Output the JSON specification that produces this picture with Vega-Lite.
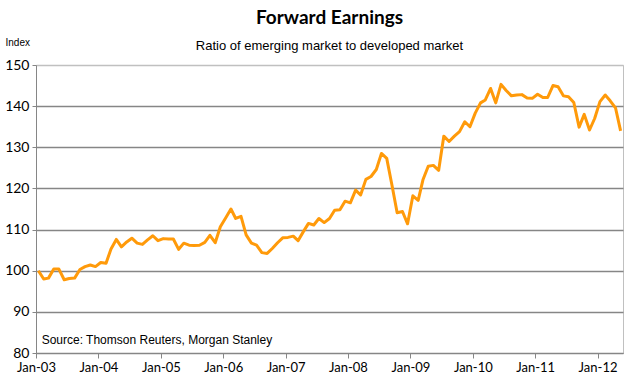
{
  "$schema": "https://vega.github.io/schema/vega-lite/v6.json",
  "width": 587,
  "height": 288,
  "autosize": {"type": "none"},
  "padding": {"left": 36, "top": 65, "right": 2, "bottom": 26},
  "background": "white",
  "config": {
    "view": {"stroke": "#c0c0c0", "strokeWidth": 1}
  },
  "title": {
    "text": "Forward Earnings",
    "subtitle": "Ratio of emerging market to developed market",
    "anchor": "middle",
    "frame": "group",
    "font": "Lato",
    "fontSize": 19,
    "fontWeight": "bold",
    "color": "black",
    "subtitleFont": "Liberation Sans Narrow, Liberation Sans, sans-serif",
    "subtitleFontSize": 13,
    "subtitleColor": "black",
    "subtitlePadding": 12,
    "offset": -16
  },
  "datasets": {
    "series": [
      {"date": "2003-01-15", "v": 100.0}, {"date": "2003-02-15", "v": 98.0}, {"date": "2003-03-15", "v": 98.2},
      {"date": "2003-04-15", "v": 100.4}, {"date": "2003-05-15", "v": 100.4}, {"date": "2003-06-15", "v": 97.8},
      {"date": "2003-07-15", "v": 98.1}, {"date": "2003-08-15", "v": 98.2}, {"date": "2003-09-15", "v": 100.3},
      {"date": "2003-10-15", "v": 101.0}, {"date": "2003-11-15", "v": 101.4}, {"date": "2003-12-15", "v": 101.0},
      {"date": "2004-01-15", "v": 102.0}, {"date": "2004-02-15", "v": 101.8}, {"date": "2004-03-15", "v": 105.3},
      {"date": "2004-04-15", "v": 107.6}, {"date": "2004-05-15", "v": 105.8}, {"date": "2004-06-15", "v": 107.0},
      {"date": "2004-07-15", "v": 107.9}, {"date": "2004-08-15", "v": 106.7}, {"date": "2004-09-15", "v": 106.4},
      {"date": "2004-10-15", "v": 107.5}, {"date": "2004-11-15", "v": 108.5}, {"date": "2004-12-15", "v": 107.3},
      {"date": "2005-01-15", "v": 107.8}, {"date": "2005-02-15", "v": 107.7}, {"date": "2005-03-15", "v": 107.7},
      {"date": "2005-04-15", "v": 105.2}, {"date": "2005-05-15", "v": 106.7}, {"date": "2005-06-15", "v": 106.2},
      {"date": "2005-07-15", "v": 106.1}, {"date": "2005-08-15", "v": 106.2}, {"date": "2005-09-15", "v": 106.9},
      {"date": "2005-10-15", "v": 108.6}, {"date": "2005-11-15", "v": 106.8}, {"date": "2005-12-15", "v": 110.7},
      {"date": "2006-01-15", "v": 112.8}, {"date": "2006-02-15", "v": 115.0}, {"date": "2006-03-15", "v": 112.7},
      {"date": "2006-04-15", "v": 113.2}, {"date": "2006-05-15", "v": 108.7}, {"date": "2006-06-15", "v": 106.7},
      {"date": "2006-07-15", "v": 106.2}, {"date": "2006-08-15", "v": 104.4}, {"date": "2006-09-15", "v": 104.2},
      {"date": "2006-10-15", "v": 105.4}, {"date": "2006-11-15", "v": 106.8}, {"date": "2006-12-15", "v": 108.0},
      {"date": "2007-01-15", "v": 108.1}, {"date": "2007-02-15", "v": 108.4}, {"date": "2007-03-15", "v": 107.3},
      {"date": "2007-04-15", "v": 109.5}, {"date": "2007-05-15", "v": 111.5}, {"date": "2007-06-15", "v": 111.1},
      {"date": "2007-07-15", "v": 112.7}, {"date": "2007-08-15", "v": 111.7}, {"date": "2007-09-15", "v": 112.7},
      {"date": "2007-10-15", "v": 114.7}, {"date": "2007-11-15", "v": 114.8}, {"date": "2007-12-15", "v": 116.9},
      {"date": "2008-01-15", "v": 116.5}, {"date": "2008-02-15", "v": 119.6}, {"date": "2008-03-15", "v": 118.4},
      {"date": "2008-04-15", "v": 122.2}, {"date": "2008-05-15", "v": 122.9}, {"date": "2008-06-15", "v": 124.6},
      {"date": "2008-07-15", "v": 128.5}, {"date": "2008-08-15", "v": 127.3}, {"date": "2008-09-15", "v": 120.7},
      {"date": "2008-10-15", "v": 114.1}, {"date": "2008-11-15", "v": 114.4}, {"date": "2008-12-15", "v": 111.4},
      {"date": "2009-01-15", "v": 118.2}, {"date": "2009-02-15", "v": 117.1}, {"date": "2009-03-15", "v": 122.1},
      {"date": "2009-04-15", "v": 125.4}, {"date": "2009-05-15", "v": 125.6}, {"date": "2009-06-15", "v": 124.4},
      {"date": "2009-07-15", "v": 132.7}, {"date": "2009-08-15", "v": 131.4}, {"date": "2009-09-15", "v": 132.7},
      {"date": "2009-10-15", "v": 133.8}, {"date": "2009-11-15", "v": 136.2}, {"date": "2009-12-15", "v": 135.0},
      {"date": "2010-01-15", "v": 138.3}, {"date": "2010-02-15", "v": 140.8}, {"date": "2010-03-15", "v": 141.5},
      {"date": "2010-04-15", "v": 144.3}, {"date": "2010-05-15", "v": 140.8}, {"date": "2010-06-15", "v": 145.3},
      {"date": "2010-07-15", "v": 143.8}, {"date": "2010-08-15", "v": 142.5}, {"date": "2010-09-15", "v": 142.7},
      {"date": "2010-10-15", "v": 142.8}, {"date": "2010-11-15", "v": 142.0}, {"date": "2010-12-15", "v": 141.9},
      {"date": "2011-01-15", "v": 142.9}, {"date": "2011-02-15", "v": 142.1}, {"date": "2011-03-15", "v": 142.1},
      {"date": "2011-04-15", "v": 145.0}, {"date": "2011-05-15", "v": 144.7}, {"date": "2011-06-15", "v": 142.5},
      {"date": "2011-07-15", "v": 142.3}, {"date": "2011-08-15", "v": 140.9}, {"date": "2011-09-15", "v": 134.9},
      {"date": "2011-10-15", "v": 138.0}, {"date": "2011-11-15", "v": 134.2}, {"date": "2011-12-15", "v": 137.0},
      {"date": "2012-01-15", "v": 141.1}, {"date": "2012-02-15", "v": 142.7}, {"date": "2012-03-15", "v": 141.3},
      {"date": "2012-04-15", "v": 139.6}, {"date": "2012-05-15", "v": 134.0}
    ],
    "note": [{"text": "Source: Thomson Reuters, Morgan Stanley", "date": "2003-02-03", "v": 83.2}]
  },
  "layer": [
    {
      "data": {"name": "series"},
      "mark": {"type": "line", "color": "#FF9A0A", "strokeWidth": 3, "strokeJoin": "round", "clip": true},
      "encoding": {
        "x": {
          "field": "date",
          "type": "temporal",
          "scale": {
            "type": "utc",
            "domain": [
              {"year": 2003, "month": 1, "date": 1, "utc": true},
              {"year": 2012, "month": 5, "date": 29, "utc": true}
            ]
          },
          "axis": {
            "title": null,
            "values": [
              {"year": 2003, "month": 1, "date": 1, "utc": true},
              {"year": 2004, "month": 1, "date": 1, "utc": true},
              {"year": 2005, "month": 1, "date": 1, "utc": true},
              {"year": 2006, "month": 1, "date": 1, "utc": true},
              {"year": 2007, "month": 1, "date": 1, "utc": true},
              {"year": 2008, "month": 1, "date": 1, "utc": true},
              {"year": 2009, "month": 1, "date": 1, "utc": true},
              {"year": 2010, "month": 1, "date": 1, "utc": true},
              {"year": 2011, "month": 1, "date": 1, "utc": true},
              {"year": 2012, "month": 1, "date": 1, "utc": true}
            ],
            "format": "%b-%y",
            "grid": false,
            "domainColor": "#868686",
            "domainWidth": 1,
            "tickColor": "#868686",
            "tickSize": 5,
            "labelFont": "Lato",
            "labelFontSize": 13,
            "labelColor": "black",
            "labelPadding": 3,
            "labelFlush": false,
            "labelOverlap": false
          }
        },
        "y": {
          "field": "v",
          "type": "quantitative",
          "scale": {"domain": [80, 150], "nice": false, "zero": false},
          "axis": {
            "title": "Index",
            "titleAngle": 0,
            "titleAlign": "left",
            "titleBaseline": "alphabetic",
            "titleX": -31,
            "titleY": -20,
            "titleFont": "Liberation Sans Narrow, Liberation Sans, sans-serif",
            "titleFontSize": 10,
            "titleFontWeight": "normal",
            "titleColor": "black",
            "values": [80, 90, 100, 110, 120, 130, 140, 150],
            "grid": true,
            "gridColor": {"condition": {"test": "datum.value >= 150", "value": "#c0c0c0"}, "value": "#868686"},
            "gridWidth": 1.3,
            "domainColor": "#868686",
            "domainWidth": 1,
            "tickColor": "#868686",
            "tickSize": 4,
            "labelFont": "Lato",
            "labelFontSize": 14,
            "labelColor": "black",
            "labelPadding": 3
          }
        }
      }
    },
    {
      "data": {"name": "note"},
      "mark": {"type": "text", "align": "left", "baseline": "middle", "font": "Liberation Sans Narrow, Liberation Sans, sans-serif", "fontSize": 12, "color": "black"},
      "encoding": {
        "x": {"field": "date", "type": "temporal"},
        "y": {"field": "v", "type": "quantitative"},
        "text": {"field": "text"}
      }
    }
  ]
}
